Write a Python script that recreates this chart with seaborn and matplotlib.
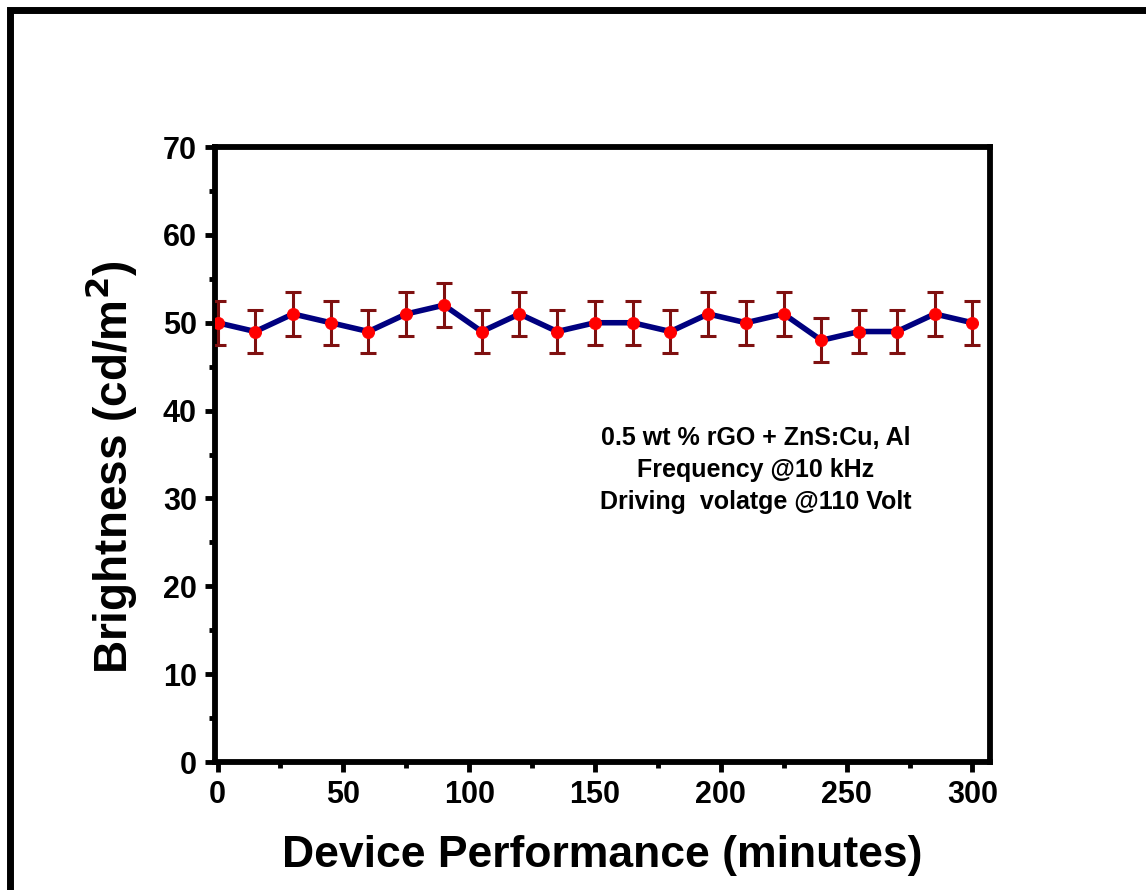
import numpy as np
import pandas as pd
import seaborn as sns
import matplotlib.pyplot as plt
from matplotlib.patches import Rectangle
from matplotlib.ticker import MultipleLocator

# tempo (min) e brilho
tempo_min = [0, 15, 30, 45, 60, 75, 90, 105, 120, 135, 150,
             165, 180, 195, 210, 225, 240, 255, 270, 285, 300]
brilho = [50, 49, 51, 50, 49, 51, 52, 49, 51, 49, 50,
          50, 49, 51, 50, 51, 48, 49, 49, 51, 50]
erro = [2.5] * len(tempo_min)

legenda_txt = ["0.5 wt % rGO + ZnS:Cu, Al",
               "Frequency @10 kHz",
               "Driving  volatge @110 Volt"]

COR_LINHA = "#00007f"
COR_PONTO = "#ff0000"
COR_ERRO = "#7f1010"


def gerar_grafico():
    df = pd.DataFrame({"t": tempo_min, "b": brilho, "e": erro})

    sns.set_theme(style="ticks")
    plt.rcParams['font.family'] = ['Liberation Sans', 'DejaVu Sans']
    plt.rcParams['font.weight'] = 'bold'
    for k in ['text.color', 'axes.labelcolor', 'xtick.color', 'ytick.color',
              'xtick.labelcolor', 'ytick.labelcolor']:
        plt.rcParams[k] = 'black'

    fig = plt.figure(figsize=(11.46, 8.9), dpi=100)
    ax = fig.add_axes([0.1876, 0.1438, 0.8639 - 0.1876, 0.8348 - 0.1438])

    sns.lineplot(data=df, x="t", y="b", ax=ax, color=COR_LINHA, linewidth=4,
                 zorder=2)
    ax.errorbar(df["t"], df["b"], yerr=df["e"], fmt="none", ecolor=COR_ERRO,
                elinewidth=2.2, capsize=6, capthick=2.2, zorder=3)
    sns.scatterplot(data=df, x="t", y="b", ax=ax, color=COR_PONTO, s=75,
                    edgecolor=COR_PONTO, zorder=4)

    ax.set_xlim(-1, 307)
    ax.set_ylim(0, 70)
    ax.xaxis.set_major_locator(MultipleLocator(50))
    ax.xaxis.set_minor_locator(MultipleLocator(25))
    ax.yaxis.set_major_locator(MultipleLocator(10))
    ax.yaxis.set_minor_locator(MultipleLocator(5))

    for s in ax.spines.values():
        s.set_linewidth(4.2)
        s.set_color("black")
    ax.tick_params(which="major", direction="out", length=7, width=3.5,
                   labelsize=22, pad=6, top=False, right=False)
    ax.tick_params(which="minor", direction="out", length=4, width=3.5,
                   top=False, right=False)
    for lab in ax.get_xticklabels() + ax.get_yticklabels():
        lab.set_fontweight("bold")

    ax.set_xlabel("Device Performance (minutes)", fontsize=32, fontweight="bold",
                  labelpad=18)
    ax.set_ylabel("Brightness (cd/m$\\mathbf{^2}$)", fontsize=33, fontweight="bold",
                  labelpad=16)
    ax.yaxis.set_label_coords(-0.098, 0.48)

    ax.text(214, 38.2, "\n".join(legenda_txt), ha="center", va="top",
            fontsize=18, fontweight="bold", linespacing=1.42)

    # moldura externa
    fig.patches.append(Rectangle((10 / 1146, -0.002), 1.05, 0.989 + 0.002,
                                 transform=fig.transFigure, fill=False,
                                 edgecolor="black", linewidth=5, clip_on=False))

    fig.savefig("out.png", dpi=100)


if __name__ == "__main__":
    gerar_grafico()
